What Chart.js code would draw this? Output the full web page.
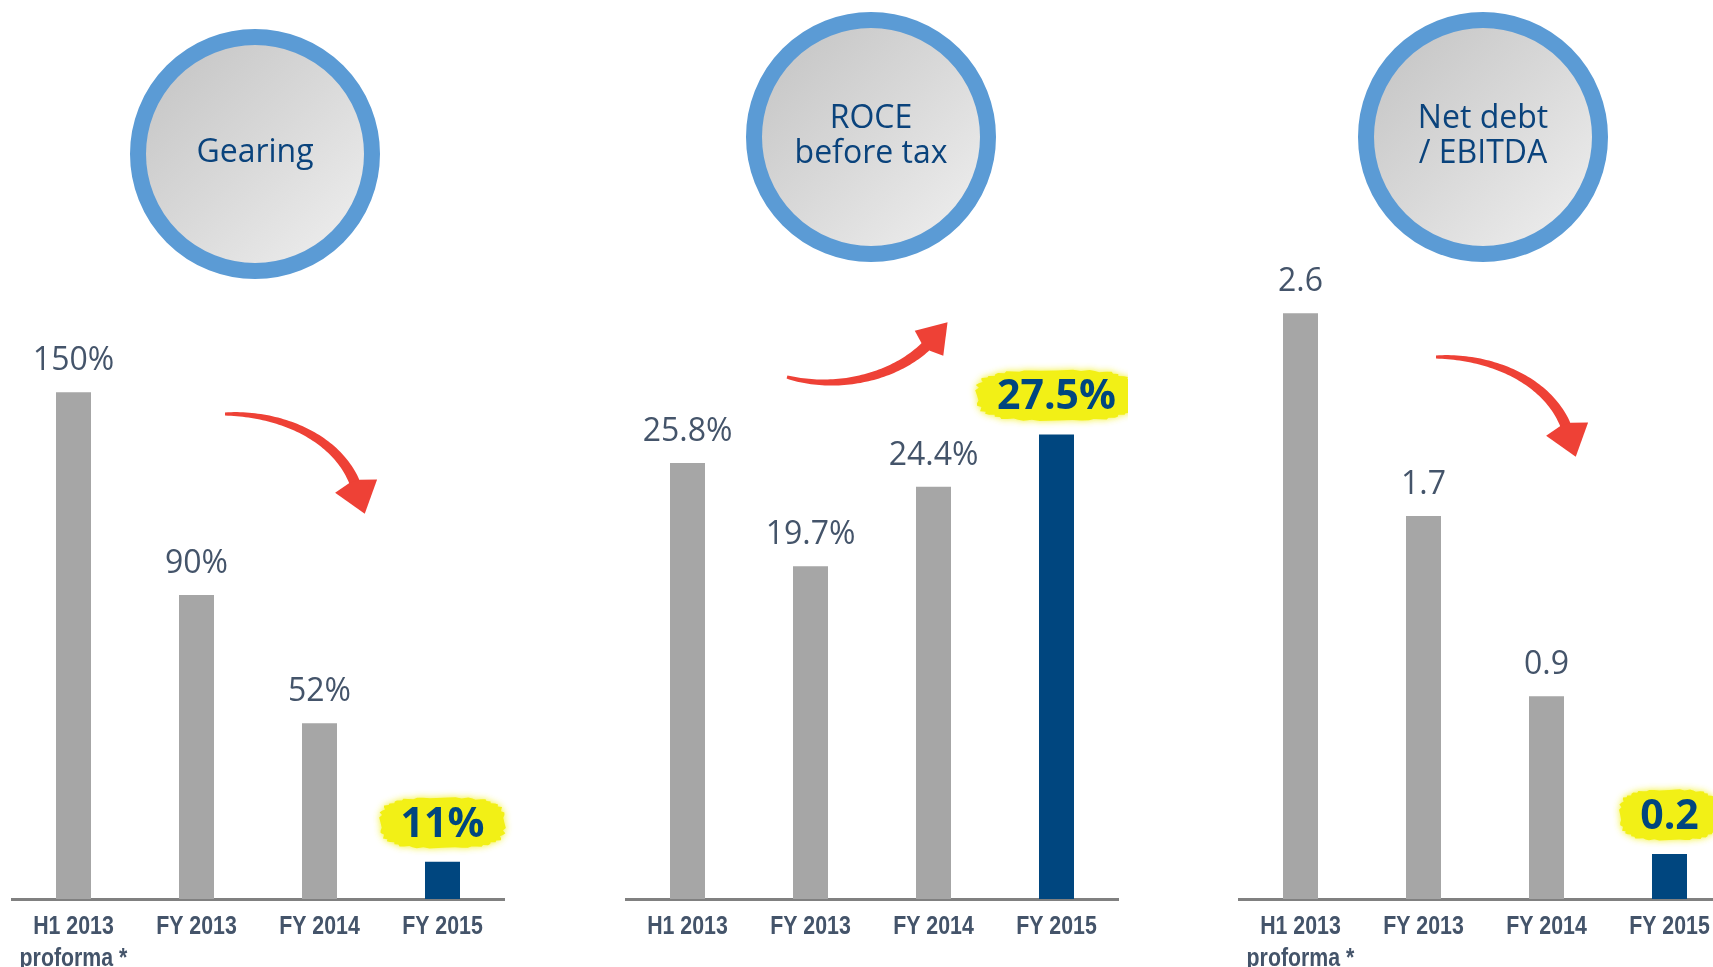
<!DOCTYPE html>
<html>
<head>
<meta charset="utf-8">
<script src="https://cdn.jsdelivr.net/npm/chart.js@4.4.1/dist/chart.umd.min.js"></script>
<style>
  html, body { margin:0; padding:0; background:#ffffff; }
  body { width:1713px; height:967px; overflow:hidden; position:relative; }
  canvas.chart { position:absolute; top:0; }
  .circle {
    position:absolute; width:250px; height:250px; box-sizing:border-box;
    border:16px solid #5b9bd5; border-radius:50%;
    background:linear-gradient(135deg, #c3c3c3 0%, #d9d9d9 50%, #f0f0f0 100%);
    display:flex; align-items:center; justify-content:center; text-align:center;
    padding-bottom:9px;
    font-family:"Open Sans", sans-serif; font-size:32px; line-height:35px; color:#0a437c;
    z-index:2;
  }
  #arrows { position:absolute; left:0; top:0; z-index:3; pointer-events:none; }
</style>
</head>
<body>
<canvas id="c1" class="chart" width="514" height="967" style="left:0px;width:514px;height:967px"></canvas>
<canvas id="c2" class="chart" width="514" height="967" style="left:614px;width:514px;height:967px"></canvas>
<canvas id="c3" class="chart" width="514" height="967" style="left:1227px;width:514px;height:967px"></canvas>

<div class="circle" style="left:130px;top:29px;">Gearing</div>
<div class="circle" style="left:746px;top:12px;">ROCE<br>before tax</div>
<div class="circle" style="left:1358px;top:12px;">Net debt<br>/ EBITDA</div>

<canvas id="arrows" width="1713" height="967"></canvas>

<script>
// ---------- data ----------
const categoriesProforma = [["H1 2013", "proforma *"], "FY 2013", "FY 2014", "FY 2015"];
const categoriesPlain = ["H1 2013", "FY 2013", "FY 2014", "FY 2015"];

const gearingValues = [150, 90, 52, 11];
const gearingLabels = ["150%", "90%", "52%", "11%"];

const roceValues = [25.8, 19.7, 24.4, 27.5];
const roceLabels = ["25.8%", "19.7%", "24.4%", "27.5%"];

const netDebtValues = [2.6, 1.7, 0.9, 0.2];
const netDebtLabels = ["2.6", "1.7", "0.9", "0.2"];

const highlightIndex = 3;

// ---------- styles ----------
const GREY = '#a6a6a6';
const NAVY = '#00467f';
const SLATE = '#44546a';

function barColors(values) {
  return values.map((v, i) => i === highlightIndex ? NAVY : GREY);
}

// Category axis whose tick labels are drawn horizontally condensed (narrow bold face look)
class NarrowCategoryScale extends Chart.CategoryScale {
  drawLabels(chartArea) {
    if (!this.options.ticks.display) return;
    const ctx = this.ctx;
    const squeeze = this.options.ticks.squeeze || 1;
    const items = this.getLabelItems(chartArea);
    for (const item of items) {
      const o = item.options;
      const lines = Array.isArray(item.label) ? item.label : [item.label];
      ctx.save();
      ctx.translate(o.translation[0], o.translation[1]);
      ctx.scale(squeeze, 1);
      ctx.font = item.font.string;
      ctx.fillStyle = o.color;
      ctx.textAlign = 'center';
      ctx.textBaseline = o.textBaseline;
      let y = item.textOffset;
      for (const line of lines) {
        ctx.fillText(line, 0, y);
        y += item.font.lineHeight;
      }
      ctx.restore();
    }
  }
}
NarrowCategoryScale.id = 'narrowCategory';
NarrowCategoryScale.defaults = Chart.CategoryScale.defaults;
Chart.register(NarrowCategoryScale);

function drawBlob(ctx, cx, cy, w, h) {
  // soft, brush-like yellow highlight
  const bumps = [0, 1.5, -1, 2, 0.5, -1.5, 1, 2.5, -0.5, 1, -2, 0.5, 1.5, -1, 2, 0, -1.5, 1, 0.5, -1];
  ctx.save();
  ctx.fillStyle = 'rgb(242,240,22)';
  ctx.shadowColor = 'rgba(242,240,22,0.9)';
  ctx.shadowBlur = 7;
  ctx.beginPath();
  const n = 80;
  const a = w / 2, b = h / 2, p = 2 / 3.2;
  for (let k = 0; k <= n; k++) {
    const th = (k / n) * Math.PI * 2;
    const c = Math.cos(th), s = Math.sin(th);
    const r = 1 + bumps[k % bumps.length] / 60;
    const x = cx + a * r * Math.sign(c) * Math.pow(Math.abs(c), p);
    const y = cy + b * r * Math.sign(s) * Math.pow(Math.abs(s), p);
    if (k === 0) ctx.moveTo(x, y); else ctx.lineTo(x, y);
  }
  ctx.closePath();
  ctx.fill();
  ctx.restore();
}

const valueLabels = {
  id: 'valueLabels',
  afterDatasetsDraw(chart, args, opts) {
    const ctx = chart.ctx;
    const meta = chart.getDatasetMeta(0);
    meta.data.forEach((bar, i) => {
      const txt = opts.labels[i];
      const hi = i === opts.highlight;
      ctx.save();
      ctx.textAlign = 'center';
      ctx.textBaseline = 'alphabetic';
      if (hi) {
        ctx.font = 'bold 41px "Open Sans"';
        const base = bar.y - 25;
        const tw = ctx.measureText(txt).width;
        drawBlob(ctx, bar.x, base - 14, tw + 40, 50);
        ctx.fillStyle = NAVY;
        ctx.fillText(txt, bar.x, base);
      } else {
        ctx.font = '32px "Open Sans"';
        ctx.fillStyle = SLATE;
        ctx.fillText(txt, bar.x, bar.y - 22);
      }
      ctx.restore();
    });
  }
};

function makeChart(id, cats, values, labels, yMax) {
  return new Chart(document.getElementById(id), {
    type: 'bar',
    data: {
      labels: cats,
      datasets: [{
        data: values,
        backgroundColor: barColors(values),
        borderWidth: 0,
        barPercentage: 0.2846,
        categoryPercentage: 1
      }]
    },
    options: {
      responsive: false,
      animation: false,
      devicePixelRatio: 1,
      layout: { padding: { top: 257, left: 12, right: 10, bottom: 0 } },
      plugins: {
        legend: { display: false },
        tooltip: { enabled: false },
        valueLabels: { labels: labels, highlight: highlightIndex }
      },
      scales: {
        x: {
          type: 'narrowCategory',
          grid: { display: false, drawTicks: false },
          border: { display: true, color: '#808080', width: 3 },
          ticks: {
            color: SLATE,
            font: { family: '"Liberation Sans", Arial, sans-serif', weight: 'bold', size: 26, lineHeight: 1.26 },
            squeeze: 0.82,
            padding: 11,
            autoSkip: false,
            maxRotation: 0,
            minRotation: 0
          },
          afterFit(scale) {
            scale.height = 68;
            scale.paddingLeft = 0;
            scale.paddingRight = 0;
          }
        },
        y: { display: false, min: 0, max: yMax }
      }
    },
    plugins: [valueLabels]
  });
}

makeChart('c1', categoriesProforma, gearingValues, gearingLabels, 190);
makeChart('c2', categoriesPlain, roceValues, roceLabels, 38);
makeChart('c3', categoriesProforma, netDebtValues, netDebtLabels, 2.85);

// ---------- decorative red arrows ----------
function drawArrow(ctx, p0, p1, p2, p3, w0, w1, headHalf, headLen) {
  const N = 60;
  const left = [], right = [];
  const bez = (t, a, b, c, d) => {
    const u = 1 - t;
    return u*u*u*a + 3*u*u*t*b + 3*u*t*t*c + t*t*t*d;
  };
  const dbez = (t, a, b, c, d) => {
    const u = 1 - t;
    return 3*u*u*(b - a) + 6*u*t*(c - b) + 3*t*t*(d - c);
  };
  for (let i = 0; i <= N; i++) {
    const t = i / N;
    const x = bez(t, p0[0], p1[0], p2[0], p3[0]);
    const y = bez(t, p0[1], p1[1], p2[1], p3[1]);
    let dx = dbez(t, p0[0], p1[0], p2[0], p3[0]);
    let dy = dbez(t, p0[1], p1[1], p2[1], p3[1]);
    const L = Math.hypot(dx, dy); dx /= L; dy /= L;
    const w = w0 + (w1 - w0) * Math.pow(t, 0.7);
    left.push([x - dy * w / 2, y + dx * w / 2]);
    right.push([x + dy * w / 2, y - dx * w / 2]);
  }
  ctx.fillStyle = '#ee4136';
  ctx.beginPath();
  left.forEach((p, i) => i ? ctx.lineTo(p[0], p[1]) : ctx.moveTo(p[0], p[1]));
  for (let i = right.length - 1; i >= 0; i--) ctx.lineTo(right[i][0], right[i][1]);
  ctx.closePath();
  ctx.fill();
  // head
  let dx = dbez(1, p0[0], p1[0], p2[0], p3[0]);
  let dy = dbez(1, p0[1], p1[1], p2[1], p3[1]);
  const L = Math.hypot(dx, dy); dx /= L; dy /= L;
  const nx = -dy, ny = dx;
  const E = p3;
  ctx.beginPath();
  ctx.moveTo(E[0] + dx * headLen, E[1] + dy * headLen);
  ctx.lineTo(E[0] + nx * headHalf - dx * 3, E[1] + ny * headHalf - dy * 3);
  ctx.lineTo(E[0] - dx * 8 + nx * w1 * 0.5, E[1] - dy * 8 + ny * w1 * 0.5);
  ctx.lineTo(E[0] - dx * 8 - nx * w1 * 0.5, E[1] - dy * 8 - ny * w1 * 0.5);
  ctx.lineTo(E[0] - nx * headHalf - dx * 3, E[1] - ny * headHalf - dy * 3);
  ctx.closePath();
  ctx.fill();
}

const actx = document.getElementById('arrows').getContext('2d');
// Gearing (down)
drawArrow(actx, [225, 414], [285, 413], [342, 441], [357, 489], 3, 11, 22, 26);
// ROCE (up)
drawArrow(actx, [787, 377], [840, 392], [901, 375], [931, 341], 3, 11, 19, 25);
// Net debt / EBITDA (down)
drawArrow(actx, [1436, 357], [1496, 356], [1553, 384], [1568, 432], 3, 11, 22, 26);
</script>
</body>
</html>
